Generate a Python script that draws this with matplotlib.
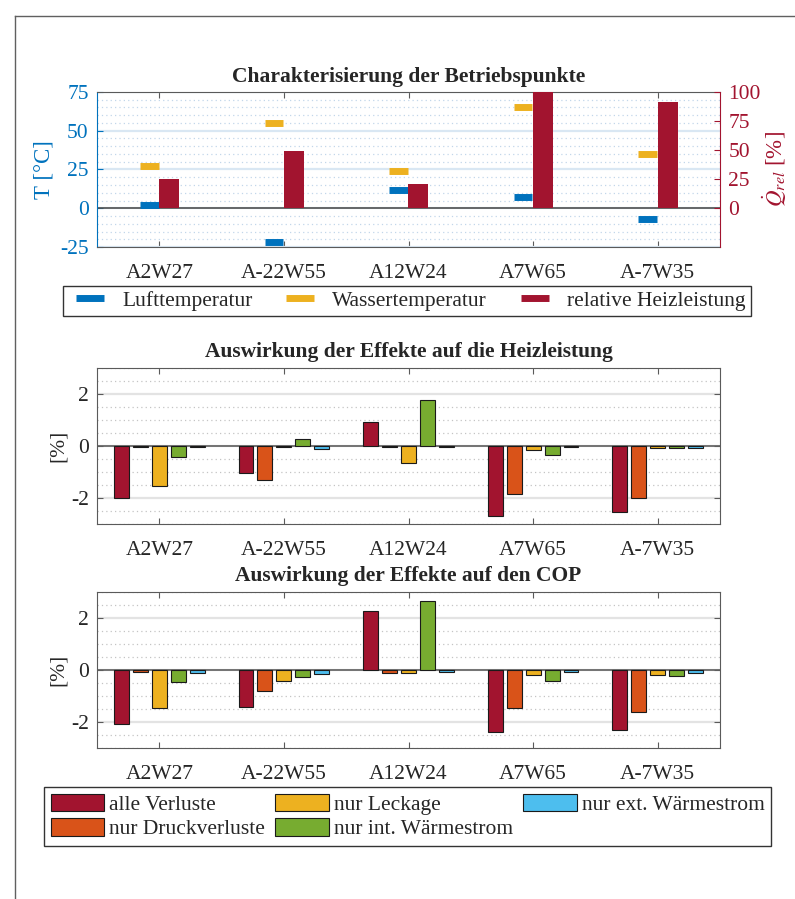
import numpy as np
import matplotlib
matplotlib.use("Agg")
import matplotlib.pyplot as plt
from matplotlib.lines import Line2D
from matplotlib.patches import Patch
from matplotlib.ticker import MultipleLocator

# ---------------- data ----------------
categories = ["A2W27", "A-22W55", "A12W24", "A7W65", "A-7W35"]
luft_temp = [2, -22, 12, 7, -7]
wasser_temp = [27, 55, 24, 65, 35]
rel_heizleistung = [25, 49, 21, 100, 91]

series_names = ["alle Verluste", "nur Druckverluste", "nur Leckage",
                "nur int. Wärmestrom", "nur ext. Wärmestrom"]
heiz_alle = [-2.00, -1.05, 0.92, -2.69, -2.53]
heiz_druck = [-0.02, -1.32, -0.02, -1.85, -1.99]
heiz_leck = [-1.52, -0.05, -0.65, -0.15, -0.08]
heiz_int = [-0.41, 0.26, 1.76, -0.36, -0.08]
heiz_ext = [-0.05, -0.12, -0.05, -0.05, -0.06]

cop_alle = [-2.07, -1.42, 2.26, -2.37, -2.30]
cop_druck = [-0.06, -0.79, -0.10, -1.48, -1.63]
cop_leck = [-1.46, -0.43, -0.12, -0.20, -0.20]
cop_int = [-0.46, -0.26, 2.67, -0.44, -0.23]
cop_ext = [-0.10, -0.17, -0.07, -0.07, -0.12]

# ---------------- style ----------------
C_BLUE = "#0072BD"
C_RED = "#A2142F"
C_ORANGE = "#D95319"
C_YELLOW = "#EDB120"
C_GREEN = "#77AC30"
C_LBLUE = "#4DBEEE"
series_colors = [C_RED, C_ORANGE, C_YELLOW, C_GREEN, C_LBLUE]

plt.rcParams["font.family"] = ["Liberation Serif", "DejaVu Serif"]
plt.rcParams["mathtext.fontset"] = "stix"
plt.rcParams["axes.unicode_minus"] = False
FS = 15.5
TXT = "#262626"
AXC = "#5a5a5a"

W, H = 795, 899
fig = plt.figure(figsize=(W / 100, H / 100), dpi=100)


def rect(left, right, top, bottom):
    return [left / W, 1 - bottom / H, (right - left) / W, (bottom - top) / H]


x = np.arange(1, len(categories) + 1)

# figure frame lines
fig.add_artist(Line2D([15 / W, 1], [1 - 16 / H, 1 - 16 / H], transform=fig.transFigure,
                      color="#606060", lw=1.0))
fig.add_artist(Line2D([15 / W, 15 / W], [0, 1 - 16 / H], transform=fig.transFigure,
                      color="#606060", lw=1.0))

# ---------------- top chart ----------------
ax1 = fig.add_axes(rect(97, 720, 92, 247))
ax1.set_xlim(0.5, 5.5)
ax1.set_ylim(-25, 75)
ax1.yaxis.set_major_locator(MultipleLocator(25))
ax1.yaxis.set_minor_locator(MultipleLocator(5))
ax1.grid(which="major", axis="y", color="#d9e7f3", lw=1.6, ls="-")
ax1.grid(which="minor", axis="y", color="#c2d7ea", lw=0.9, ls=(0, (1, 2.5)))
ax1.set_axisbelow(True)
ax1.axhline(0, color="#505050", lw=1.2, zorder=2)

off = 0.08
dw = 0.15
ax1.hlines(luft_temp, x - off - dw / 2, x - off + dw / 2, color=C_BLUE, lw=5, zorder=3)
ax1.hlines(wasser_temp, x - off - dw / 2, x - off + dw / 2, color=C_YELLOW, lw=5, zorder=3)

ax1r = ax1.twinx()
ax1r.set_ylim(-25 * 4 / 3, 100)
ax1r.set_yticks([0, 25, 50, 75, 100])
ax1r.bar(x + off, rel_heizleistung, width=0.16, color=C_RED, zorder=3)

ax1.set_xticks(x)
ax1.set_xticklabels(categories, fontsize=FS, color=TXT)
ax1.tick_params(axis="x", direction="in", top=True, length=4, color=AXC, pad=12)
ax1.tick_params(axis="y", which="major", direction="in", colors=C_BLUE, labelsize=FS, length=4, pad=6)
ax1.tick_params(axis="y", which="minor", length=0)
ax1r.tick_params(axis="y", direction="in", colors=C_RED, labelsize=FS, length=4, pad=6)
for sp in ["top", "bottom"]:
    ax1.spines[sp].set_color(AXC)
    ax1r.spines[sp].set_visible(False)
ax1r.spines["left"].set_visible(False)
ax1.spines["left"].set_color(C_BLUE)
ax1.spines["right"].set_visible(False)
ax1r.spines["right"].set_color(C_RED)
ax1.set_ylabel("T [°C]", color=C_BLUE, fontsize=FS + 1, labelpad=4)
ax1r.set_ylabel(r"$\dot{Q}_{rel}$ [%]", color=C_RED, fontsize=FS + 1, labelpad=0)
ax1.set_title("Charakterisierung der Betriebspunkte", fontsize=FS, fontweight="bold",
              color=TXT, pad=7)

# top legend
h_top = [Line2D([], [], marker="_", ms=20, mew=5, ls="none", color=c)
         for c in (C_BLUE, C_YELLOW, C_RED)]
fig.legend(h_top, ["Lufttemperatur", "Wassertemperatur", "relative Heizleistung"],
           loc="center", bbox_to_anchor=(407 / W, 1 - 301 / H), ncol=3, fontsize=FS,
           frameon=True, fancybox=False, edgecolor="#333333", framealpha=1,
           handlelength=2.0, handletextpad=0.5, columnspacing=1.2, borderpad=0.25,
           labelcolor=TXT)


# ---------------- effect charts ----------------
def effect_chart(rect_px, series, title):
    ax = fig.add_axes(rect(*rect_px))
    ax.set_xlim(0.5, 5.5)
    ax.set_ylim(-3, 3)
    ax.yaxis.set_major_locator(MultipleLocator(2))
    ax.yaxis.set_minor_locator(MultipleLocator(0.5))
    ax.grid(which="major", axis="y", color="#e3e3e3", lw=1.6, ls="-")
    ax.grid(which="minor", axis="y", color="#c4c4c4", lw=0.9, ls=(0, (1, 2.5)))
    ax.set_axisbelow(True)
    ax.axhline(0, color="#606060", lw=1.2, zorder=2)
    step = 0.152
    for i, (vals, col) in enumerate(zip(series, series_colors)):
        ax.bar(x + (i - 2) * step, vals, width=0.12, color=col, edgecolor="#1a1a1a",
               lw=0.8, zorder=3)
    ax.set_xticks(x)
    ax.set_xticklabels(categories, fontsize=FS, color=TXT)
    ax.set_yticks([-2, 0, 2])
    ax.set_yticklabels(["-2", "0", "2"], fontsize=FS, color=TXT)
    ax.tick_params(axis="both", which="major", direction="in", top=True, right=True,
                   length=4, color=AXC)
    ax.tick_params(axis="x", pad=12)
    ax.tick_params(axis="y", pad=6)
    ax.tick_params(which="minor", length=0)
    for sp in ax.spines.values():
        sp.set_color(AXC)
    ax.set_ylabel("[%]", fontsize=FS, color=TXT, labelpad=2)
    ax.set_title(title, fontsize=FS, fontweight="bold", color=TXT, pad=8)
    return ax


effect_chart((97, 720, 368, 524), [heiz_alle, heiz_druck, heiz_leck, heiz_int, heiz_ext],
             "Auswirkung der Effekte auf die Heizleistung")
effect_chart((97, 720, 592, 748), [cop_alle, cop_druck, cop_leck, cop_int, cop_ext],
             "Auswirkung der Effekte auf den COP")

h_bot = [Patch(facecolor=c, edgecolor="#1a1a1a", lw=0.8) for c in series_colors]
fig.legend(h_bot, series_names, loc="center", bbox_to_anchor=(407.5 / W, 1 - 816.5 / H),
           ncol=3, fontsize=FS, frameon=True, fancybox=False, edgecolor="#333333",
           framealpha=1, handlelength=2.5, handleheight=0.9, handletextpad=0.2,
           columnspacing=0.5, borderpad=0.3, labelspacing=0.15, borderaxespad=0,
           labelcolor=TXT)

fig.savefig("out.png", dpi=100)
